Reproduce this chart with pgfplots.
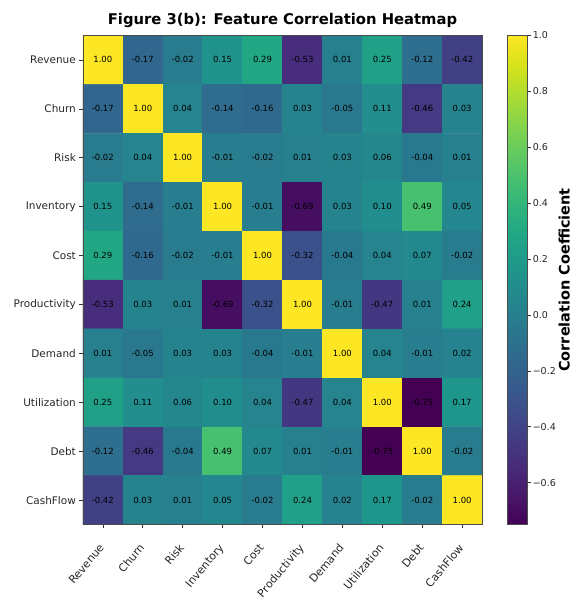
\documentclass[border=0pt]{standalone}
\usepackage{fontspec}
\setmainfont{DejaVu Sans}
\usepackage{pgfplots}
\usepackage{pgfplotstable}
\pgfplotsset{compat=1.18}

% Pairwise correlation matrix (row index y, column index x)
\pgfplotstableread{
x y z
0 0 1.00
1 0 -0.17
2 0 -0.02
3 0 0.15
4 0 0.29
5 0 -0.53
6 0 0.01
7 0 0.25
8 0 -0.12
9 0 -0.42
0 1 -0.17
1 1 1.00
2 1 0.04
3 1 -0.14
4 1 -0.16
5 1 0.03
6 1 -0.05
7 1 0.11
8 1 -0.46
9 1 0.03
0 2 -0.02
1 2 0.04
2 2 1.00
3 2 -0.01
4 2 -0.02
5 2 0.01
6 2 0.03
7 2 0.06
8 2 -0.04
9 2 0.01
0 3 0.15
1 3 -0.14
2 3 -0.01
3 3 1.00
4 3 -0.01
5 3 -0.69
6 3 0.03
7 3 0.10
8 3 0.49
9 3 0.05
0 4 0.29
1 4 -0.16
2 4 -0.02
3 4 -0.01
4 4 1.00
5 4 -0.32
6 4 -0.04
7 4 0.04
8 4 0.07
9 4 -0.02
0 5 -0.53
1 5 0.03
2 5 0.01
3 5 -0.69
4 5 -0.32
5 5 1.00
6 5 -0.01
7 5 -0.47
8 5 0.01
9 5 0.24
0 6 0.01
1 6 -0.05
2 6 0.03
3 6 0.03
4 6 -0.04
5 6 -0.01
6 6 1.00
7 6 0.04
8 6 -0.01
9 6 0.02
0 7 0.25
1 7 0.11
2 7 0.06
3 7 0.10
4 7 0.04
5 7 -0.47
6 7 0.04
7 7 1.00
8 7 -0.75
9 7 0.17
0 8 -0.12
1 8 -0.46
2 8 -0.04
3 8 0.49
4 8 0.07
5 8 0.01
6 8 -0.01
7 8 -0.75
8 8 1.00
9 8 -0.02
0 9 -0.42
1 9 0.03
2 9 0.01
3 9 0.05
4 9 -0.02
5 9 0.24
6 9 0.02
7 9 0.17
8 9 -0.02
9 9 1.00
}\corrtable

\begin{document}
\begin{tikzpicture}
\begin{axis}[
  name=ax,
  scale only axis,
  width=400pt, height=490pt,
  xmin=-0.5, xmax=9.5, ymin=-0.5, ymax=9.5,
  y dir=reverse,
  enlargelimits=false,
  axis on top,
  colormap/viridis,
  point meta min=-0.75, point meta max=1.0,
  /pgf/number format/assume math mode=true,
  xtick={0,...,9}, ytick={0,...,9},
  xticklabels={Revenue,Churn,Risk,Inventory,Cost,Productivity,Demand,Utilization,Debt,CashFlow},
  yticklabels={Revenue,Churn,Risk,Inventory,Cost,Productivity,Demand,Utilization,Debt,CashFlow},
  tick label style={font=\fontsize{10.5}{12}\selectfont, text=black!85},
  x tick label style={font=\fontsize{11}{13}\selectfont, rotate=50, anchor=north east,
    inner sep=1pt, yshift=-5pt, xshift=-13pt},
  tick align=outside, tick pos=left,
  major tick length=3.5pt,
  tick style={black!80, line width=0.6pt},
  axis line style={line width=0.4pt, black!70},
  title={Figure 3(b): Feature Correlation Heatmap},
  title style={font=\bfseries\fontsize{14.8}{16}\selectfont, at={(0.5,1)}, anchor=south, yshift=-2pt},
  colorbar,
  colorbar/width=20pt,
  colorbar style={
    scale only axis,
    at={(parent axis.north east)}, anchor=north west, xshift=17pt,
    ytick={-0.6,-0.4,-0.2,0,0.2,0.4,0.6,0.8,1.0},
    yticklabels={−0.6,−0.4,−0.2,0.0,0.2,0.4,0.6,0.8,1.0},
    yticklabel style={font=\fontsize{9.5}{11}\selectfont, text=black!85, inner sep=1.5pt},
    ytick pos=right, yticklabel pos=right,
    tick align=outside, major tick length=3.5pt,
    tick style={black!80, line width=0.6pt},
    axis line style={line width=0.4pt, black!70},
    ylabel={\bfseries Correlation Coefficient},
    ylabel style={font=\bfseries\fontsize{14.5}{17}\selectfont,
      at={(axis description cs:2.55,0.5)}, anchor=north, inner sep=0pt},
  },
]
\addplot[matrix plot*, mesh/cols=10, point meta=explicit] table[x=x, y=y, meta=z] {\corrtable};
\addplot[only marks, mark=none, point meta=explicit,
  nodes near coords={\pgfmathprintnumber[fixed, fixed zerofill, precision=2]{\pgfplotspointmeta}},
  every node near coord/.append style={anchor=center, font=\fontsize{8.5}{9}\selectfont, text=black}]
  table[x=x, y=y, meta=z] {\corrtable};
\end{axis}
% overall page frame around the chart
\path ([shift={(-83pt,35.5pt)}]ax.north west) rectangle ([shift={(94pt,-75.5pt)}]ax.south east);
\end{tikzpicture}
\end{document}
